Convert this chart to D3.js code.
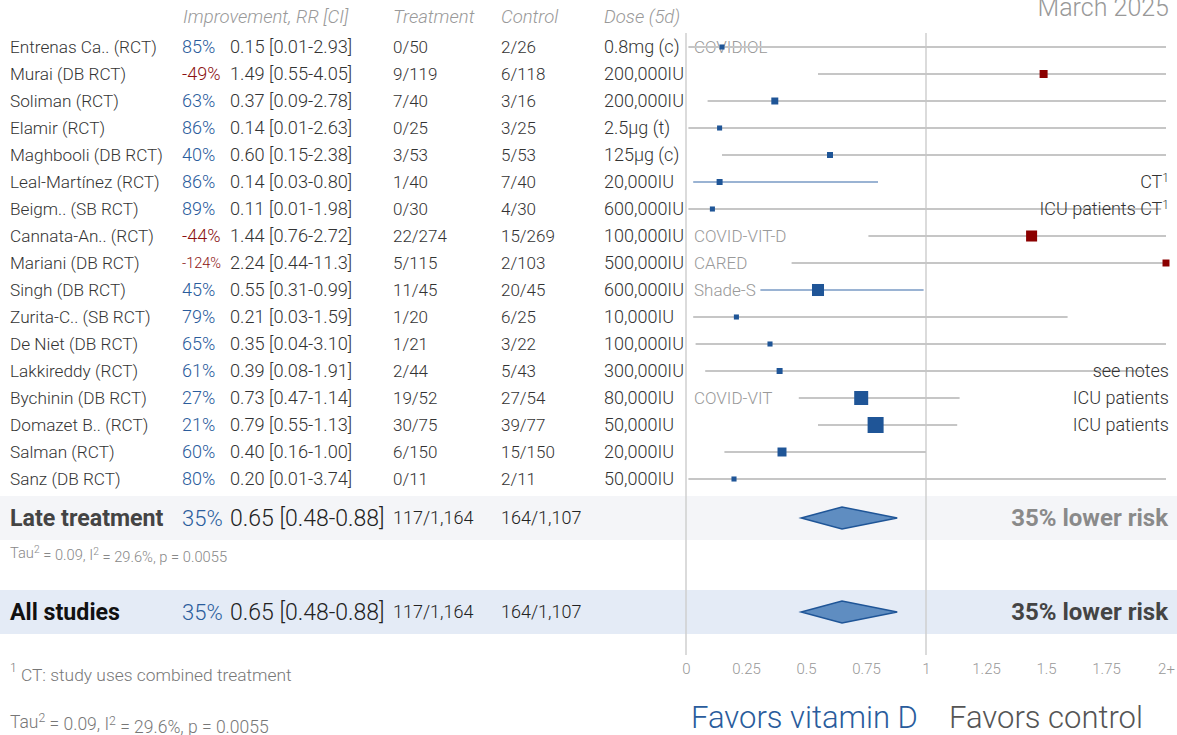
<!DOCTYPE html>
<html>
<head>
<meta charset="utf-8">
<script src="https://cdn.jsdelivr.net/npm/d3@7"></script>
<style>
  body { margin: 0; background: #fff; }
  svg text { font-family: Roboto, "Noto Sans", sans-serif; }
</style>
</head>
<body>
<div id="chart"></div>
<script>
const studies = ["Entrenas Ca.. (RCT)", "Murai (DB RCT)", "Soliman (RCT)", "Elamir (RCT)", "Maghbooli (DB RCT)",
  "Leal-Martínez (RCT)", "Beigm.. (SB RCT)", "Cannata-An.. (RCT)", "Mariani (DB RCT)", "Singh (DB RCT)",
  "Zurita-C.. (SB RCT)", "De Niet (DB RCT)", "Lakkireddy (RCT)", "Bychinin (DB RCT)", "Domazet B.. (RCT)",
  "Salman (RCT)", "Sanz (DB RCT)"];
const improvement = ["85%", "-49%", "63%", "86%", "40%", "86%", "89%", "-44%", "-124%", "45%", "79%", "65%", "61%", "27%", "21%", "60%", "80%"];
const rr = [0.15, 1.49, 0.37, 0.14, 0.60, 0.14, 0.11, 1.44, 2.24, 0.55, 0.21, 0.35, 0.39, 0.73, 0.79, 0.40, 0.20];
const ciLow = [0.01, 0.55, 0.09, 0.01, 0.15, 0.03, 0.01, 0.76, 0.44, 0.31, 0.03, 0.04, 0.08, 0.47, 0.55, 0.16, 0.01];
const ciHigh = [2.93, 4.05, 2.78, 2.63, 2.38, 0.80, 1.98, 2.72, 11.3, 0.99, 1.59, 3.10, 1.91, 1.14, 1.13, 1.00, 3.74];
const ciText = ["0.01-2.93", "0.55-4.05", "0.09-2.78", "0.01-2.63", "0.15-2.38", "0.03-0.80", "0.01-1.98", "0.76-2.72",
  "0.44-11.3", "0.31-0.99", "0.03-1.59", "0.04-3.10", "0.08-1.91", "0.47-1.14", "0.55-1.13", "0.16-1.00", "0.01-3.74"];
const treatment = ["0/50", "9/119", "7/40", "0/25", "3/53", "1/40", "0/30", "22/274", "5/115", "11/45", "1/20", "1/21", "2/44", "19/52", "30/75", "6/150", "0/11"];
const control = ["2/26", "6/118", "3/16", "3/25", "5/53", "7/40", "4/30", "15/269", "2/103", "20/45", "6/25", "3/22", "5/43", "27/54", "39/77", "15/150", "2/11"];
const dose = ["0.8mg (c)", "200,000IU", "200,000IU", "2.5µg (t)", "125µg (c)", "20,000IU", "600,000IU", "100,000IU", "500,000IU",
  "600,000IU", "10,000IU", "100,000IU", "300,000IU", "80,000IU", "50,000IU", "20,000IU", "50,000IU"];
const trialNames = ["COVIDIOL", "", "", "", "", "", "", "COVID-VIT-D", "CARED", "Shade-S", "", "", "", "COVID-VIT", "", "", ""];
const notes = ["", "", "", "", "", "CT¹", "ICU patients CT¹", "", "", "", "", "", "see notes", "ICU patients", "ICU patients", "", ""];
const weights = [2.0, 5.0, 3.8, 2.0, 2.8, 2.8, 2.0, 9.5, 3.8, 11.3, 2.0, 2.0, 2.8, 15.3, 20, 6.3, 2.0];

const summaryLabels = ["Late treatment", "All studies"];
const summaryImprovement = ["35%", "35%"];
const summaryRR = [0.65, 0.65];
const summaryLow = [0.48, 0.48];
const summaryHigh = [0.88, 0.88];
const summaryTreatment = ["117/1,164", "117/1,164"];
const summaryControl = ["164/1,107", "164/1,107"];
const summaryRisk = ["35% lower risk", "35% lower risk"];

const ticks = [0, 0.25, 0.5, 0.75, 1, 1.25, 1.5, 1.75, 2];

const width = 1177, height = 735;
const blue = "#2a5c9c", red = "#8b1212", markBlue = "#1f5597", markRed = "#8b0000";

const svg = d3.select("#chart").append("svg")
  .attr("width", width)
  .attr("height", height);

const x = d3.scaleLinear().domain([0, 2]).range([686, 1166]).clamp(true);
const y = d3.scalePoint().domain(d3.range(studies.length)).range([47, 479]);
const ySum = d3.scalePoint().domain([0, 1]).range([518, 612]);
const size = d3.scaleSqrt().domain([0, d3.max(weights)]).range([0, 16]);

// summary bands
svg.selectAll(".band")
  .data(summaryLabels)
  .enter().append("rect")
  .attr("x", 0)
  .attr("y", (d, i) => ySum(i) - 22)
  .attr("width", width)
  .attr("height", 44)
  .attr("fill", (d, i) => i === 0 ? "#f4f5f8" : "#e4ebf6");

// reference lines at 0 and 1
svg.selectAll(".ref")
  .data([0, 1])
  .enter().append("line")
  .attr("x1", d => x(d)).attr("x2", d => x(d))
  .attr("y1", 33).attr("y2", 655)
  .attr("stroke", "#cfcfcf")
  .attr("stroke-width", 1.5);

// header
svg.append("text").attr("x", 1169).attr("y", 16).attr("text-anchor", "end")
  .attr("font-size", 25).attr("font-weight", 300).attr("fill", "#999").text("March 2025");

const headers = [["Improvement, RR [CI]", 183], ["Treatment", 393], ["Control", 501], ["Dose (5d)", 604]];
svg.selectAll(".hdr")
  .data(headers)
  .enter().append("text")
  .attr("x", d => d[1]).attr("y", 23)
  .attr("font-size", 18.5).attr("font-style", "italic").attr("font-weight", 300).attr("fill", "#999")
  .text(d => d[0]);

// study rows
const rows = svg.selectAll(".row")
  .data(studies)
  .enter().append("g")
  .attr("transform", (d, i) => `translate(0,${y(i)})`)
  .attr("font-weight", 300);

rows.append("text").attr("x", 10).attr("dy", "0.35em").attr("font-size", 17.2).attr("fill", "#333").text(d => d);
rows.append("text").attr("x", 182).attr("dy", "0.35em")
  .attr("font-size", (d, i) => improvement[i].length > 4 ? 14.5 : 18)
  .attr("fill", (d, i) => rr[i] > 1 ? red : blue)
  .text((d, i) => improvement[i]);
rows.append("text").attr("x", 230).attr("dy", "0.35em").attr("font-size", 18.2).attr("fill", "#333")
  .text((d, i) => `${rr[i].toFixed(2)} [${ciText[i]}]`);
rows.append("text").attr("x", 393).attr("dy", "0.35em").attr("font-size", 17).attr("fill", "#333").text((d, i) => treatment[i]);
rows.append("text").attr("x", 501).attr("dy", "0.35em").attr("font-size", 17).attr("fill", "#333").text((d, i) => control[i]);
rows.append("text").attr("x", 604).attr("dy", "0.35em").attr("font-size", 18).attr("fill", "#333").text((d, i) => dose[i]);

rows.append("text").attr("x", 694).attr("dy", "0.35em").attr("font-size", 17).attr("fill", "#999")
  .text((d, i) => trialNames[i]);

// CI lines
rows.append("line")
  .attr("x1", (d, i) => x(ciLow[i]))
  .attr("x2", (d, i) => x(ciHigh[i]))
  .attr("stroke", (d, i) => ciHigh[i] < 1 ? "#9ab3d3" : "#c6c6c6")
  .attr("stroke-width", 2);

// notes on right
const noteText = rows.append("text").attr("x", 1169).attr("dy", "0.35em").attr("text-anchor", "end")
  .attr("font-size", 18).attr("fill", "#333");
noteText.each(function(d, i) {
  const t = d3.select(this);
  const n = notes[i];
  if (n.endsWith("¹")) {
    t.append("tspan").text(n.slice(0, -1));
    t.append("tspan").attr("dy", "-0.5em").attr("font-size", 12).text("1");
  } else {
    t.text(n);
  }
});

// markers
rows.append("rect")
  .attr("x", (d, i) => x(rr[i]) - size(weights[i]) / 2)
  .attr("y", (d, i) => -size(weights[i]) / 2)
  .attr("width", (d, i) => size(weights[i]))
  .attr("height", (d, i) => size(weights[i]))
  .attr("fill", (d, i) => rr[i] > 1 ? markRed : markBlue);

// summary rows
const sums = svg.selectAll(".sum")
  .data(summaryLabels)
  .enter().append("g")
  .attr("transform", (d, i) => `translate(0,${ySum(i)})`);

sums.append("text").attr("x", 10).attr("dy", "0.35em").attr("font-size", 23.2).attr("font-weight", "bold")
  .attr("fill", (d, i) => i === 0 ? "#444" : "#111").text(d => d);
sums.append("text").attr("x", 182).attr("dy", "0.35em").attr("font-size", 22).attr("font-weight", 300).attr("fill", blue)
  .text((d, i) => summaryImprovement[i]);
sums.append("text").attr("x", 230).attr("dy", "0.35em").attr("font-size", 23).attr("font-weight", 300).attr("fill", "#222")
  .text((d, i) => `${summaryRR[i].toFixed(2)} [${summaryLow[i].toFixed(2)}-${summaryHigh[i].toFixed(2)}]`);
sums.append("text").attr("x", 393).attr("dy", "0.35em").attr("font-size", 18).attr("font-weight", 300).attr("fill", "#222")
  .text((d, i) => summaryTreatment[i]);
sums.append("text").attr("x", 501).attr("dy", "0.35em").attr("font-size", 18).attr("font-weight", 300).attr("fill", "#222")
  .text((d, i) => summaryControl[i]);
sums.append("text").attr("x", 1168).attr("dy", "0.35em").attr("text-anchor", "end").attr("font-size", 24)
  .attr("font-weight", "bold").attr("fill", (d, i) => i === 0 ? "#8a8a8a" : "#444")
  .text((d, i) => summaryRisk[i]);

sums.append("polygon")
  .attr("points", (d, i) => [
    [x(summaryLow[i]), 0], [x(summaryRR[i]), -11], [x(summaryHigh[i]), 0], [x(summaryRR[i]), 11]
  ].map(p => p.join(",")).join(" "))
  .attr("fill", "#5f8dc1")
  .attr("stroke", "#1f5597")
  .attr("stroke-width", 1.5);

// heterogeneity texts
function tauText(sel, fs) {
  sel.append("tspan").text("Tau");
  sel.append("tspan").attr("dy", "-0.45em").attr("font-size", fs * 0.7).text("2");
  sel.append("tspan").attr("dy", "0.45em").text(" = 0.09, I");
  sel.append("tspan").attr("dy", "-0.45em").attr("font-size", fs * 0.7).text("2");
  sel.append("tspan").attr("dy", "0.45em").text(" = 29.6%, p = 0.0055");
}
tauText(svg.append("text").attr("x", 10).attr("y", 558).attr("font-size", 14.7).attr("font-weight", 300).attr("fill", "#888"), 14.7);
tauText(svg.append("text").attr("x", 10).attr("y", 728).attr("font-size", 17.5).attr("font-weight", 300).attr("fill", "#777"), 17.5);

const foot = svg.append("text").attr("x", 10).attr("y", 678).attr("font-size", 17.4).attr("font-weight", 300).attr("fill", "#777");
foot.append("tspan").attr("font-size", 12).attr("dy", "-0.5em").text("1");
foot.append("tspan").attr("dy", "0.5em").text(" CT: study uses combined treatment");

// axis
const axis = svg.append("g")
  .attr("transform", "translate(0,660)")
  .call(d3.axisBottom(x).tickValues(ticks).tickSize(0).tickPadding(3)
    .tickFormat(d => d === 2 ? "2+" : d3.format("~g")(d)));
axis.select(".domain").remove();
axis.selectAll("text")
  .attr("font-family", "Roboto, sans-serif")
  .attr("font-size", 15)
  .attr("font-weight", 300)
  .attr("fill", "#999");

// favors labels
svg.append("text").attr("x", 691).attr("y", 728).attr("font-size", 31).attr("font-weight", 300).attr("fill", "#2a5c9c").text("Favors vitamin D");
svg.append("text").attr("x", 949).attr("y", 728).attr("font-size", 31).attr("font-weight", 300).attr("fill", "#555").text("Favors control");
</script>
</body>
</html>
